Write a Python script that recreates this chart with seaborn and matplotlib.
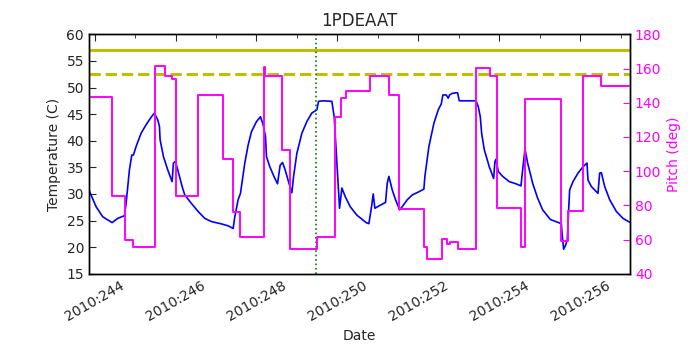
import numpy as np
import pandas as pd
import seaborn as sns
import matplotlib
matplotlib.use("Agg")
import matplotlib.pyplot as plt
from matplotlib.ticker import MultipleLocator, FuncFormatter

# 1PDEAAT temperature (day of year 2010, deg C)
temp_days = [243.86, 244.037, 244.202, 244.433, 244.573, 244.738, 244.779, 244.861, 244.919,
             244.960, 245.026, 245.150, 245.273, 245.397, 245.479, 245.562, 245.603, 245.619,
             245.702, 245.809, 245.916, 245.949, 245.998, 246.056, 246.163,
             246.229, 246.394, 246.558, 246.723, 246.888, 247.135, 247.300, 247.424, 247.465,
             247.547, 247.605, 247.630, 247.712, 247.795, 247.877, 248.001, 248.099, 248.165,
             248.223, 248.248, 248.330, 248.437,
             248.520, 248.586, 248.644, 248.710, 248.792, 248.875, 248.916, 248.998, 249.122,
             249.245, 249.369, 249.493, 249.534, 249.658, 249.863, 249.921, 249.987, 250.053,
             250.111, 250.193, 250.317, 250.482, 250.712,
             250.778, 250.844, 250.885, 250.926, 251.066, 251.190, 251.231, 251.272, 251.355,
             251.437, 251.536, 251.602, 251.726, 251.849, 252.014, 252.137, 252.162, 252.261,
             252.385, 252.492, 252.566, 252.607, 252.690, 252.739, 252.772, 252.838, 252.920,
             252.970, 253.012, 253.424, 253.481, 253.531, 253.564, 253.630, 253.753, 253.860,
             253.893, 253.918, 253.976, 254.083, 254.248, 254.412, 254.536, 254.577, 254.635,
             254.701, 254.825, 254.948, 255.072, 255.261,
             255.327, 255.533, 255.558, 255.591, 255.640, 255.681, 255.714, 255.739, 255.821,
             255.945, 256.068, 256.167, 256.192, 256.274, 256.439, 256.480, 256.522, 256.604,
             256.728, 256.893, 257.057, 257.239]
temp_vals = [30.75, 27.6, 25.7, 24.6, 25.4, 25.9, 28.2, 34.5, 37.3,
             37.3, 38.9, 41.4, 43.0, 44.4, 45.2, 43.9, 42.7, 40.2,
             37.0, 34.5, 32.3, 35.8, 36.1, 34.5, 31.4,
             29.8, 28.2, 26.7, 25.4, 24.8, 24.36, 24.0, 23.5, 25.7,
             28.9, 30.1, 31.4, 35.8, 39.2, 41.7, 43.6, 44.5, 43.0,
             40.8, 37.0, 35.1, 33.2,
             31.9, 35.4, 35.9, 34.5, 32.3, 30.2, 33.2, 37.6, 41.4,
             43.6, 45.2, 45.8, 47.4, 47.5, 47.4, 44.5, 35.8, 27.3,
             31.1, 29.5, 27.6, 26.0, 24.6,
             24.4, 27.6, 30.0, 27.3, 27.9, 28.4, 32.0, 33.3, 30.75,
             28.9, 27.0, 27.6, 28.9, 29.8, 30.4, 30.9, 33.3, 38.9,
             43.3, 45.8, 46.9, 48.6, 48.6, 48.0, 48.6, 48.9, 49.0,
             49.0, 47.5, 47.5, 46.4, 44.5, 41.4, 38.3, 35.1, 32.9,
             36.1, 36.5, 34.2, 33.3, 32.3, 31.9, 31.5, 34.5, 38.4,
             35.8, 32.0, 29.2, 27.0, 25.2,
             25.0, 24.4, 22.0, 19.6, 20.4, 21.4, 27.0, 30.75, 32.3,
             33.9, 35.1, 35.8, 32.6, 31.4, 30.1, 33.9, 34.0, 31.4,
             28.9, 26.7, 25.4, 24.6]

# pitch angle, piecewise constant (start day of each segment, deg)
pitch_days = [243.86, 244.433, 244.754, 244.944, 245.496, 245.751, 245.916, 246.015,
              246.558, 247.176, 247.424, 247.605, 248.182, 248.223, 248.627, 248.833,
              249.493, 249.929, 250.086, 250.218, 250.794, 251.272, 251.519, 252.137,
              252.203, 252.574, 252.714, 252.772, 252.987, 253.424, 253.778, 253.935,
              254.536, 254.635, 255.516, 255.698, 256.068, 256.522, 257.239]
pitch_vals = [143.2, 85.7, 59.6, 55.9, 161.7, 155.9, 153.7, 85.7,
              144.6, 107.0, 76.0, 61.3, 160.7, 155.9, 112.4, 54.3,
              61.3, 131.5, 142.6, 146.9, 155.7, 144.6, 77.9, 55.5,
              48.5, 60.2, 57.2, 58.8, 54.3, 160.2, 155.7, 78.3,
              55.9, 142.2, 59.2, 76.7, 155.7, 149.8, 149.8]

planning_limit = 57.0
caution_limit = 52.5
now_day = 249.48


def create_plot():
    sns.set_style("white")
    plt.rcParams['font.family'] = ['DejaVu Sans']
    plt.rcParams['font.size'] = 10

    fig = plt.figure(figsize=(7, 3.5), dpi=100)
    ax = fig.add_axes([0.127, 0.218, 0.773, 0.684])

    temp_df = pd.DataFrame({'day': temp_days, 'temp': temp_vals})
    pitch_df = pd.DataFrame({'day': pitch_days, 'pitch': pitch_vals})

    sns.lineplot(data=temp_df, x='day', y='temp', ax=ax, color='b', lw=1.2,
                 estimator=None)
    ax.axhline(planning_limit, color='y', lw=2.2)
    ax.axhline(caution_limit, color='y', lw=2.2, ls='--')
    ax.axvline(now_day, color='g', ls=':', lw=1.2)

    ax.set_xlim(243.86, 257.23)
    ax.set_ylim(15, 60)
    ax.yaxis.set_major_locator(MultipleLocator(5))
    ax.xaxis.set_major_locator(MultipleLocator(2))
    ax.xaxis.set_minor_locator(MultipleLocator(1))
    ax.xaxis.set_major_formatter(FuncFormatter(lambda v, p: '2010:%03d' % int(round(v))))
    ax.tick_params(which='both', direction='in', top=True, right=False)
    ax.tick_params(which='major', length=5)
    ax.tick_params(which='minor', length=3)
    ax.set_xlabel('Date')
    ax.set_ylabel('Temperature (C)')
    ax.set_title('1PDEAAT', fontsize=12)
    for lbl in ax.get_xticklabels():
        lbl.set_rotation(30)
        lbl.set_ha('center')

    ax2 = ax.twinx()
    sns.lineplot(data=pitch_df, x='day', y='pitch', ax=ax2, color='#ff00ff', lw=1.4,
                 drawstyle='steps-post', estimator=None)
    ax2.set_ylim(40, 180)
    ax2.yaxis.set_major_locator(MultipleLocator(20))
    ax2.set_ylabel('Pitch (deg)', color='#ff00ff')
    ax2.tick_params(axis='y', direction='in', colors='#ff00ff', length=5)
    ax2.set_xlim(243.86, 257.23)

    for sp in ax.spines.values():
        sp.set_color('black')
        sp.set_linewidth(1)
    for sp in ax2.spines.values():
        sp.set_color('black')
        sp.set_linewidth(1)

    fig.savefig('out.png', dpi=100)


if __name__ == "__main__":
    create_plot()
